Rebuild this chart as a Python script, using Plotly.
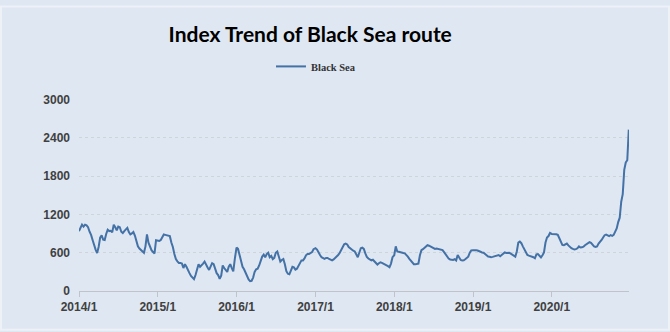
import pandas as pd
import plotly.graph_objects as go

years = [2014, 2015, 2016, 2017, 2018, 2019, 2020]

v2014 = [938, 1000, 1040, 1010, 1040, 1030, 1000, 930, 880, 800, 700, 650, 595, 690, 836, 872,
         805, 800, 895, 960, 940, 945, 920, 1040, 1000, 950, 1010, 1000, 930, 910, 940, 970,
         990, 925, 887, 903, 925, 870, 780, 700, 665, 641, 631, 600, 700, 887, 759, 682,
         640, 610, 590, 795]
v2015 = [790, 785, 800, 850, 887, 880, 877, 870, 860, 760, 690, 580, 500, 465, 440, 440,
         430, 360, 420, 380, 320, 280, 235, 200, 185, 250, 330, 420, 380, 400, 430, 462,
         400, 370, 330, 390, 436, 420, 330, 280, 250, 190, 240, 400, 360, 330, 300, 380,
         420, 360, 308, 500]
v2016 = [680, 660, 560, 450, 380, 340, 290, 221, 180, 155, 160, 210, 300, 340, 350, 400,
         470, 540, 570, 528, 580, 600, 530, 550, 500, 520, 600, 620, 540, 462, 487, 502,
         420, 310, 270, 262, 320, 380, 370, 335, 349, 400, 436, 480, 480, 510, 560, 580,
         580, 590, 610, 656]
v2017 = [672, 650, 600, 565, 530, 510, 505, 518, 518, 502, 490, 480, 495, 515, 540, 565,
         595, 645, 700, 733, 744, 730, 690, 665, 640, 631, 620, 580, 530, 600, 670, 680,
         660, 590, 535, 510, 490, 480, 490, 470, 450, 415, 436, 450, 440, 430, 420, 410,
         390, 374, 430, 530]
v2018 = [560, 700, 620, 615, 605, 600, 595, 590, 569, 540, 505, 470, 445, 420, 418, 426,
         430, 560, 640, 656, 682, 705, 718, 710, 695, 685, 670, 660, 665, 656, 656, 646,
         641, 610, 575, 540, 510, 495, 490, 487, 500, 480, 565, 515, 487, 477, 480, 497,
         525, 538, 600, 635]
v2019 = [641, 645, 641, 635, 630, 615, 605, 600, 580, 556, 540, 538, 530, 535, 544, 548,
         560, 564, 545, 569, 590, 605, 596, 600, 598, 585, 565, 550, 538, 620, 759, 774,
         750, 700, 650, 600, 565, 554, 550, 538, 530, 513, 575, 580, 545, 528, 560, 605,
         760, 840, 862, 910]
v2020 = [895, 897, 895, 890, 880, 820, 755, 722, 718, 733, 744, 715, 690, 672, 660, 651,
         656, 670, 700, 682, 685, 695, 718, 733, 744, 765, 755, 720, 700, 692, 700, 744,
         770, 800, 840, 875, 885, 870, 862, 875, 865, 880, 920, 980, 1080, 1150, 1400, 1520,
         1900, 2015, 2050, 2530]

values_by_year = [v2014, v2015, v2016, v2017, v2018, v2019, v2020]

tick_dates = ["2014-01-01", "2015-01-01", "2016-01-01", "2017-01-01",
              "2018-01-01", "2019-01-01", "2020-01-01"]
tick_labels = ["2014/1", "2015/1", "2016/1", "2017/1", "2018/1", "2019/1", "2020/1"]
y_ticks = [0, 600, 1200, 1800, 2400, 3000]

dates = []
values = []
for y, vals in zip(years, values_by_year):
    d = pd.date_range(f"{y}-01-01", periods=len(vals), freq="7D")
    dates.extend(d)
    values.extend(vals)

BG = "#dee7f2"
W, H = 670, 332
ML, MR, MT, MB = 79, 41, 96, 41
PW, PH = W - ML - MR, H - MT - MB

fig = go.Figure()
fig.add_trace(go.Scatter(
    x=dates, y=values, mode="lines", name="Black Sea",
    line=dict(color="#4472a6", width=2),
))

fig.update_layout(
    width=W, height=H,
    paper_bgcolor=BG, plot_bgcolor=BG,
    margin=dict(l=ML, r=MR, t=MT, b=MB),
    title=dict(
        text="Index Trend of Black Sea route",
        font=dict(family="Lato", size=21, color="#000000", weight="bold"),
        xref="container", yref="container",
        x=0.463, y=0.897, xanchor="center", yanchor="middle",
    ),
    showlegend=True,
    legend=dict(
        orientation="h",
        xref="container", yref="container",
        x=0.4716, y=0.80, xanchor="center", yanchor="middle",
        font=dict(family="Liberation Serif", size=10.5, color="#333333", weight="bold"),
        bgcolor="rgba(0,0,0,0)",
        itemwidth=30,
    ),
    xaxis=dict(
        type="date",
        range=["2014-01-01", "2020-12-24"],
        tickvals=tick_dates, ticktext=tick_labels,
        showgrid=False, zeroline=False,
        showline=True, linecolor="#c0c4c8", linewidth=1,
        ticks="outside", ticklen=5, tickcolor="#c0c4c8",
        tickfont=dict(family="Liberation Sans", size=12, color="#404040", weight="bold"),
    ),
    yaxis=dict(
        range=[0, 3000],
        tickvals=y_ticks,
        showgrid=True, gridcolor="#cfd4da", griddash="dot", gridwidth=1,
        zeroline=False, showline=False,
        ticks="", ticklabelstandoff=8,
        tickfont=dict(family="Liberation Sans", size=12, color="#404040", weight="bold"),
    ),
    shapes=[dict(
        type="rect", xref="paper", yref="paper", layer="below",
        x0=-(ML - 1) / PW, x1=(W - ML - 1) / PW,
        y0=-(MB - 1.5) / PH, y1=(H - MB - 1) / PH,
        line=dict(color="#eef2f7", width=2), fillcolor="rgba(0,0,0,0)",
    )],
)

fig.write_html("out.html")
